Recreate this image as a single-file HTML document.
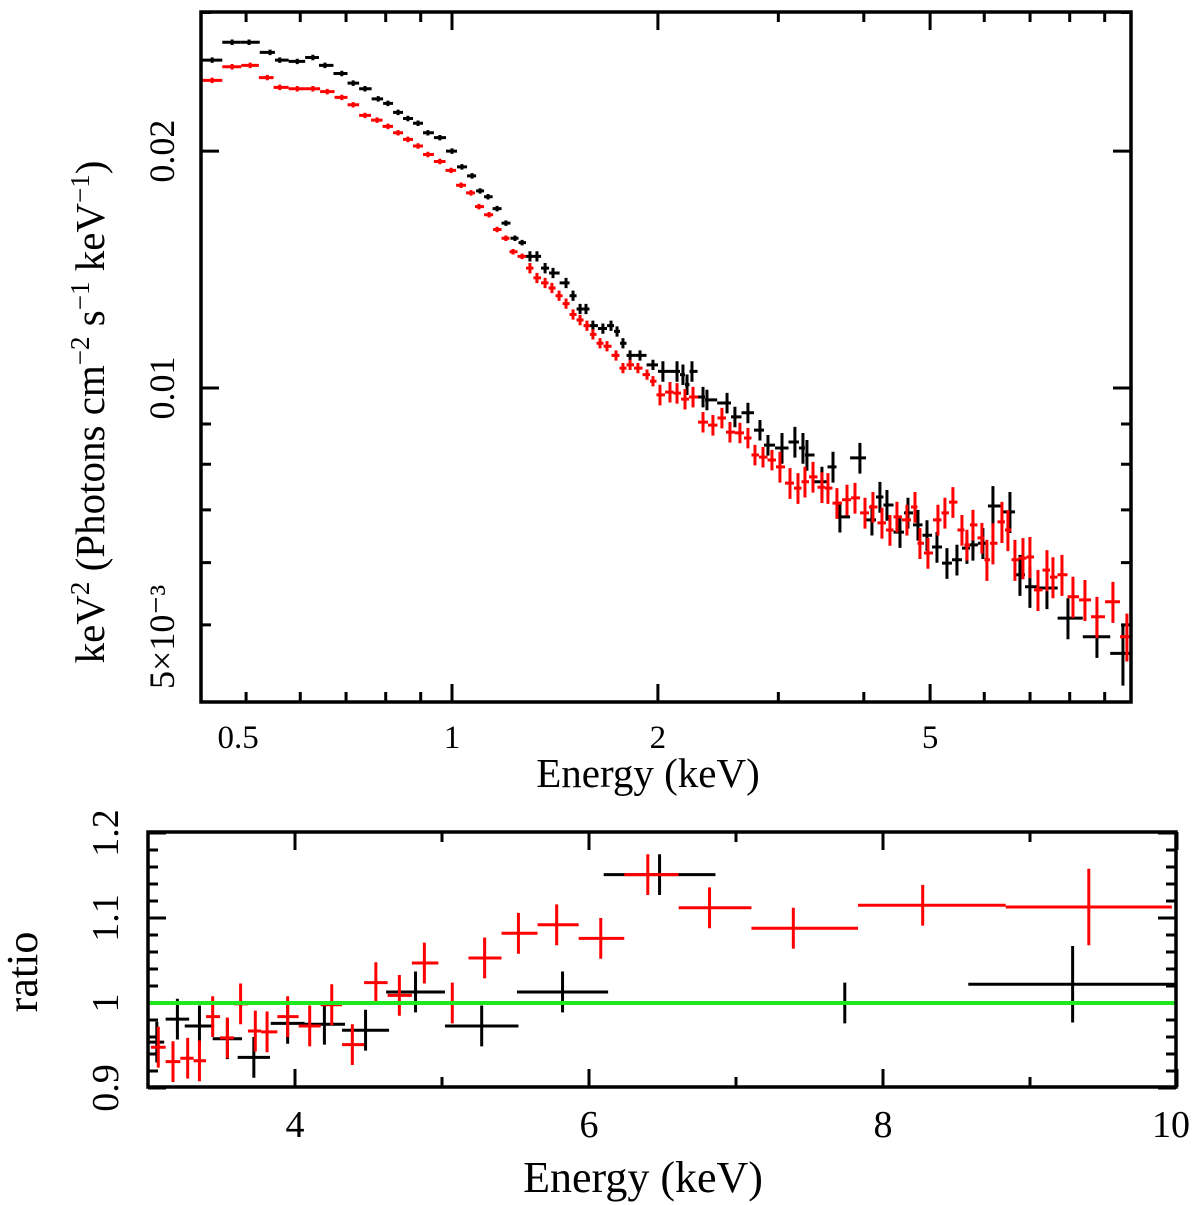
<!DOCTYPE html>
<html><head><meta charset="utf-8">
<style>
html,body{margin:0;padding:0;background:#fff;}
svg{display:block;font-family:"Liberation Serif","Times New Roman",serif;}
</style></head>
<body>
<svg id="chart" width="1200" height="1205" viewBox="0 0 1200 1205" xmlns="http://www.w3.org/2000/svg">
<g id="topPanel"></g>
<g id="botPanel"></g>
<text x="648" y="787" font-size="41" text-anchor="middle">Energy (keV)</text>
<text transform="translate(104,412) rotate(-90)" font-size="41" text-anchor="middle">keV<tspan font-size="27" dy="-15">2</tspan><tspan dy="15"> (Photons cm</tspan><tspan font-size="27" dy="-15">−2</tspan><tspan dy="15"> s</tspan><tspan font-size="27" dy="-15">−1</tspan><tspan dy="15"> keV</tspan><tspan font-size="27" dy="-15">−1</tspan><tspan dy="15">)</tspan></text>
<text x="643" y="1192" font-size="44" text-anchor="middle">Energy (keV)</text>
<text transform="translate(37,972) rotate(-90)" font-size="44" text-anchor="middle">ratio</text>
</svg>
<script>
// ---- top panel data ----
const blackE = [0.446,0.477,0.505,0.542,0.560,0.594,0.626,0.652,0.690,0.717,0.746,0.780,0.806,0.834,0.862,0.892,0.922,0.960,1.000,1.034,1.070,1.099,1.129,1.164,1.199,1.236,1.266,1.300,1.331,1.368,1.405,1.468,1.503,1.539,1.570,1.607,1.662,1.708,1.743,1.778,1.821,1.883,1.967,2.034,2.133,2.176,2.206,2.243,2.328,2.359,2.524,2.592,2.708,2.820,2.897,3.037,3.172,3.259,3.303,3.474,3.606,3.691,3.948,4.111,4.223,4.324,4.518,4.641,4.800,4.948,5.117,5.292,5.473,5.660,5.776,5.973,6.178,6.542,6.766,6.997,7.410,7.953,8.768,9.570];
const blackF = [0.0261,0.0275,0.0275,0.0267,0.0261,0.0260,0.0263,0.0257,0.0251,0.0244,0.0240,0.0233,0.0230,0.0224,0.0220,0.0217,0.0211,0.0208,0.0200,0.0191,0.0186,0.0178,0.0175,0.0169,0.0162,0.0155,0.0153,0.0147,0.0147,0.0142,0.0140,0.0136,0.0131,0.0126,0.0126,0.0120,0.0119,0.0120,0.0118,0.0114,0.0110,0.0110,0.0107,0.0105,0.0105,0.0104,0.0101,0.0105,0.00974,0.00966,0.00957,0.00919,0.00930,0.00884,0.00846,0.00839,0.00854,0.00839,0.00822,0.00760,0.00794,0.00686,0.00815,0.00680,0.00727,0.00710,0.00656,0.00694,0.00670,0.00650,0.00628,0.00599,0.00605,0.00626,0.00632,0.00635,0.00708,0.00696,0.00579,0.00559,0.00557,0.00510,0.00483,0.00460];
const redE = [0.446,0.477,0.507,0.537,0.560,0.594,0.626,0.657,0.690,0.717,0.746,0.777,0.806,0.834,0.862,0.892,0.922,0.960,0.997,1.031,1.066,1.095,1.133,1.164,1.199,1.228,1.266,1.300,1.331,1.368,1.400,1.434,1.468,1.503,1.539,1.575,1.607,1.646,1.685,1.737,1.778,1.821,1.870,1.928,1.967,2.014,2.083,2.133,2.191,2.251,2.328,2.407,2.481,2.549,2.636,2.708,2.773,2.849,2.936,3.016,3.120,3.205,3.281,3.371,3.474,3.545,3.654,3.780,3.883,4.016,4.125,4.252,4.368,4.472,4.625,4.752,4.832,4.964,5.134,5.256,5.399,5.566,5.660,5.776,5.953,6.054,6.178,6.368,6.498,6.653,6.835,6.997,7.189,7.410,7.561,7.794,8.088,8.421,8.768,9.253,9.699];
const redF = [0.0246,0.0256,0.0257,0.0248,0.0241,0.0240,0.0240,0.0238,0.0234,0.0229,0.0222,0.0219,0.0215,0.0211,0.0207,0.0203,0.0198,0.0194,0.0189,0.0181,0.0177,0.0170,0.0166,0.0159,0.0155,0.0149,0.0147,0.0142,0.0138,0.0136,0.0134,0.0131,0.0128,0.0124,0.0122,0.0120,0.0117,0.0114,0.0113,0.0110,0.0106,0.0107,0.0106,0.0104,0.0102,0.00980,0.00988,0.00985,0.00968,0.00974,0.00905,0.00897,0.00916,0.00879,0.00877,0.00864,0.00822,0.00817,0.00810,0.00794,0.00757,0.00746,0.00760,0.00771,0.00748,0.00746,0.00714,0.00721,0.00725,0.00694,0.00706,0.00674,0.00660,0.00686,0.00680,0.00706,0.00635,0.00617,0.00680,0.00694,0.00716,0.00660,0.00632,0.00670,0.00645,0.00605,0.00635,0.00676,0.00660,0.00605,0.00608,0.00610,0.00554,0.00587,0.00575,0.00579,0.00543,0.00538,0.00512,0.00535,0.00483];
const topXTicks = [0.5,1,2,5];
const topXTickLabels = ["0.5","1","2","5"];
const topYTicks = [0.005,0.01,0.02];
const topYTickLabels = ["5×10⁻³","0.01","0.02"];
// ---- ratio panel data ----
const ratioBlackE = [3.06,3.20,3.35,3.54,3.72,3.95,4.20,4.48,4.82,5.27,5.82,6.48,7.74,9.29];
const ratioBlackR = [0.954,0.981,0.973,0.958,0.936,0.976,0.975,0.968,1.013,0.973,1.013,1.151,1.000,1.022];
const ratioBlackHalfW = [0.05,0.08,0.1,0.1,0.11,0.115,0.14,0.16,0.2,0.25,0.31,0.38,0.89,0.71];
const ratioRedE = [3.07,3.17,3.27,3.35,3.44,3.54,3.63,3.73,3.81,3.95,4.10,4.25,4.39,4.55,4.71,4.88,5.07,5.29,5.52,5.78,6.08,6.40,6.82,7.39,8.27,9.40];
const ratioRedR = [0.948,0.931,0.935,0.932,0.984,0.959,0.999,0.967,0.966,0.984,0.973,0.998,0.951,1.024,1.009,1.047,1.000,1.053,1.082,1.092,1.076,1.151,1.112,1.088,1.115,1.113];
const botXTicks = [4,6,8,10];
const botXTickLabels = ["4","6","8","10"];
const botYTicks = [0.9,1.0,1.1,1.2];
const botYTickLabels = ["0.9","1","1.1","1.2"];

const NS = "http://www.w3.org/2000/svg";
function mk(tag, parent, attrs){const e=document.createElementNS(NS,tag);for(const k in attrs)e.setAttribute(k,attrs[k]);parent.appendChild(e);return e;}

const T = {l:201,r:1131,t:12,b:702};
const tx = E => 452 + 684*Math.log10(E);
const ty = F => 388 - 787*Math.log10(F/0.01);
const B = {l:148,r:1176,t:832,b:1087};
const bx = E => 148 + 147*(E-3);
const by = R => 1003 - 850*(R-1);

const topG = document.getElementById('topPanel');
const botG = document.getElementById('botPanel');

function bins(E){
  const lo=[],hi=[];
  for(let i=0;i<E.length;i++){
    const prev = i>0 ? E[i-1] : null, next = i<E.length-1 ? E[i+1] : null;
    const gR = next!==null ? next-E[i] : E[i]-prev;
    const gL = prev!==null ? E[i]-prev : gR;
    lo.push(E[i]-gL/2); hi.push(E[i]+gR/2);
  }
  return {lo,hi};
}
function topErr(E,i,n,isBlack){
  if(i===n-1) return isBlack?0.09:0.07;
  if(E<1.3) return 0.008; if(E<2) return 0.015; if(E<3) return 0.03; if(E<6) return 0.045; return 0.06;
}
function drawTopSeries(E,F,color,name,isBlack){
  const g = mk('g',topG,{});
  
  
  const b = bins(E);
  for(let i=0;i<E.length;i++){
    const x0=Math.max(T.l,tx(b.lo[i])), x1=Math.min(T.r,tx(b.hi[i]));
    const e = topErr(E[i],i,E.length,isBlack);
    const y=ty(F[i]);
    const p = mk('path',g,{d:`M${x0} ${y}H${x1}M${tx(E[i])} ${Math.min(T.b,ty(F[i]*(1-e)))}V${ty(F[i]*(1+e))}`,stroke:color,'stroke-width':3,fill:'none'});
    
    
  }
}
function drawBotSeries(E,R,color,name,halfW){
  const g = mk('g',botG,{});
  
  
  const b = bins(E);
  for(let i=0;i<E.length;i++){
    const lo = halfW ? E[i]-halfW[i] : b.lo[i];
    const hi = halfW ? E[i]+halfW[i] : b.hi[i];
    const x0=Math.max(B.l,bx(lo)), x1=Math.min(B.r,bx(hi));
    const e = E[i]>9 ? 0.045 : 0.024;
    const y=by(R[i]);
    const p = mk('path',g,{d:`M${x0} ${y}H${x1}M${bx(E[i])} ${Math.min(B.b,by(R[i]-e))}V${by(R[i]+e)}`,stroke:color,'stroke-width':3,fill:'none'});
    
    
  }
}

let d='';
const topMinorX=[0.5,0.6,0.7,0.8,0.9,1,2,3,4,5,6,7,8,9];
topMinorX.forEach(v=>{const x=tx(v);const L=(v===1||v===2||v===5)?18:10;d+=`M${x} ${T.b}v${-L}M${x} ${T.t}v${L}`;});
const topMinorY=[0.005,0.006,0.007,0.008,0.009,0.01,0.02,0.03];
topMinorY.forEach(v=>{const y=ty(v);const L=(v===0.01||v===0.02)?18:10;d+=`M${T.l} ${y}h${L}M${T.r} ${y}h${-L}`;});
const tt=mk('path',topG,{d:d,stroke:'#000','stroke-width':3,fill:'none'});


drawTopSeries(blackE,blackF,'#000','black-spectrum',true);
drawTopSeries(redE,redF,'#f00','red-spectrum',false);
const tf=mk('rect',topG,{x:T.l,y:T.t,width:T.r-T.l,height:T.b-T.t,fill:'none',stroke:'#000','stroke-width':3.5});


topXTicks.forEach((v,i)=>{
  const t=mk('text',topG,{x:tx(v)-(v===0.5?8:0),y:748,'font-size':33,'text-anchor':'middle'});
  t.textContent=topXTickLabels[i];
  
  
});
topYTicks.forEach((v,i)=>{
  const t=mk('text',topG,{transform:`translate(174,${ty(v)+(v===0.005?12:0)}) rotate(-90)`,'font-size':36,'text-anchor':'middle'});
  t.textContent=topYTickLabels[i];
  
  
});

d='';
for(let v=3;v<=10;v++){const x=bx(v);const L=(v%2===0)?18:10;d+=`M${x} ${B.b}v${-L}M${x} ${B.t}v${L}`;}
for(let k=0;k<=15;k++){const v=0.9+k*0.02;const y=by(v);const L=(k%5===0)?18:10;d+=`M${B.l} ${y}h${L}M${B.r} ${y}h${-L}`;}
const bt=mk('path',botG,{d:d,stroke:'#000','stroke-width':3,fill:'none'});


drawBotSeries(ratioBlackE,ratioBlackR,'#000','black-ratio',ratioBlackHalfW);
drawBotSeries(ratioRedE,ratioRedR,'#f00','red-ratio',null);
const gl=mk('line',botG,{x1:B.l,x2:B.r,y1:by(1),y2:by(1),stroke:'#1ee81e','stroke-width':4});


const bf=mk('rect',botG,{x:B.l,y:B.t,width:B.r-B.l,height:B.b-B.t,fill:'none',stroke:'#000','stroke-width':3.5});


botXTicks.forEach((v,i)=>{
  const t=mk('text',botG,{x:bx(v)-(v===10?6:0),y:1137,'font-size':38,'text-anchor':'middle'});
  t.textContent=botXTickLabels[i];
  
  
});
botYTicks.forEach((v,i)=>{
  const t=mk('text',botG,{transform:`translate(118,${by(v)}) rotate(-90)`,'font-size':38,'text-anchor':'middle'});
  t.textContent=botYTickLabels[i];
  
  
});
</script>
</body></html>
